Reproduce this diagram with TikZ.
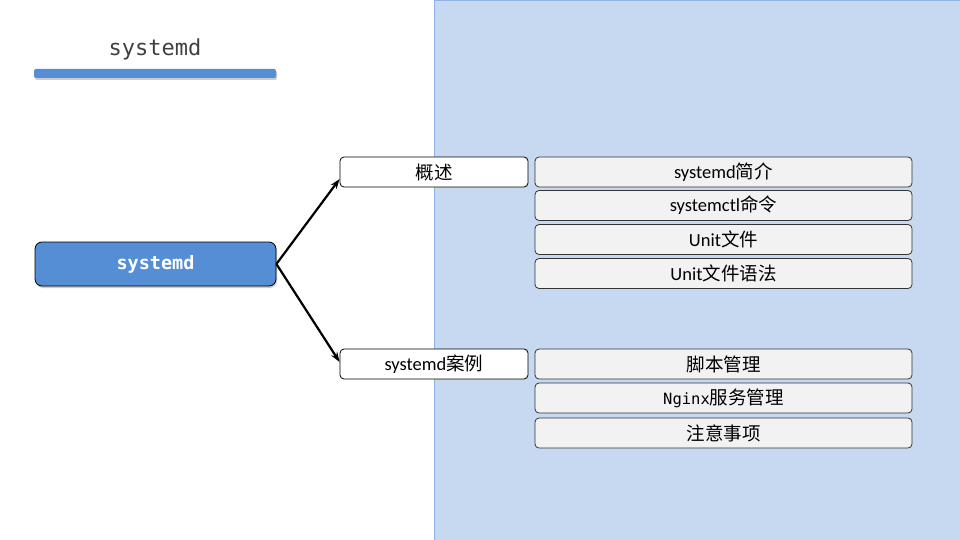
\documentclass[tikz,border=0pt]{standalone}
\usepackage{fontspec}
\setmainfont{Carlito}
\newfontfamily\cjk{Noto Sans CJK SC}
\newfontfamily\monof{DejaVu Sans Mono}
\usetikzlibrary{shadows,arrows.meta}
\definecolor{panelblue}{HTML}{C6D9F1}
\definecolor{panelborder}{HTML}{8EB4E3}
\definecolor{mainblue}{HTML}{558ED5}
\definecolor{boxgray}{HTML}{F2F2F2}
\definecolor{titlegray}{HTML}{404040}
\tikzset{
  midbox/.style={draw=black, fill=white, rounded corners=4pt, minimum width=188pt, minimum height=30pt, inner sep=0pt, font=\fontsize{18.5}{20}\selectfont, line width=0.8pt},
  leafbox/.style={draw=black!80, fill=boxgray, rounded corners=4pt, minimum width=377pt, minimum height=30pt, inner sep=0pt, font=\fontsize{18.5}{20}\selectfont, line width=0.8pt},
  conn/.style={-{Stealth[length=10pt,width=7pt]}, line width=2.2pt, black},
}
\begin{document}
\begin{tikzpicture}[x=1pt,y=-1pt]
\useasboundingbox (0,0) rectangle (960,540);
\fill[white] (0,0) rectangle (960,540);
\draw[fill=panelblue, draw=panelborder, line width=0.8pt] (434,0) rectangle (960,540);
\node[font=\monof\fontsize{22}{24}\selectfont, text=titlegray] (title) at (155,49) {systemd};
\node[fill=mainblue, rounded corners=2pt, minimum width=242pt, minimum height=9pt, inner sep=0pt, drop shadow={shadow xshift=1pt, shadow yshift=-2pt, opacity=0.4}] (bar) at (155,73.5) {};
\node[draw=black, fill=mainblue, rounded corners=7pt, minimum width=241pt, minimum height=44pt, inner sep=0pt, line width=0.8pt, text=white, font=\monof\bfseries\fontsize{18.5}{20}\selectfont, drop shadow={shadow xshift=1pt, shadow yshift=-2pt, opacity=0.4}] (main) at (155.5,264) {\raisebox{-2pt}{systemd}};
\node[midbox] (gaishu) at (434,172) {\cjk 概述};
\node[midbox] (anli) at (434,364) {systemd{\cjk 案例}};
\node[leafbox] (l1) at (723.5,172) {systemd{\cjk 简介}};
\node[leafbox] (l2) at (723.5,205.5) {systemctl{\cjk 命令}};
\node[leafbox] (l3) at (723.5,239.5) {Unit{\cjk 文件}};
\node[leafbox] (l4) at (723.5,273.5) {Unit{\cjk 文件语法}};
\node[leafbox] (l5) at (723.5,364) {\cjk 脚本管理};
\node[leafbox] (l6) at (723.5,398) {\monof\fontsize{15.5}{17}\selectfont Nginx\cjk\fontsize{18.5}{20}\selectfont 服务管理};
\node[leafbox] (l7) at (723.5,433) {\cjk 注意事项};
\draw[conn] (main.east) -- (gaishu.west |- 0,179);
\draw[conn] (main.east) -- (anli.west |- 0,362);
\end{tikzpicture}
\end{document}
